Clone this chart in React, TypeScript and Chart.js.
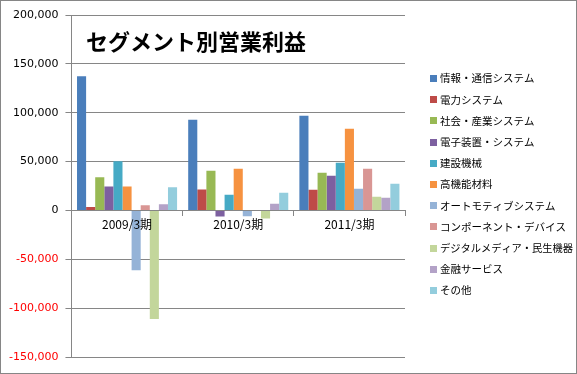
import React, { useEffect, useRef } from "react";
import { Chart, registerables } from "chart.js";

Chart.register(...registerables);

const categories = ["2009/3期", "2010/3期", "2011/3期"];
const chartTitle = "セグメント別営業利益";

const segmentNames = [
  "情報・通信システム",
  "電力システム",
  "社会・産業システム",
  "電子装置・システム",
  "建設機械",
  "高機能材料",
  "オートモティブシステム",
  "コンポーネント・デバイス",
  "デジタルメディア・民生機器",
  "金融サービス",
  "その他",
];

const infoComm = [137300, 92700, 96800];
const powerSys = [3400, 21500, 21200];
const socialInd = [34000, 40600, 38500];
const electronic = [24500, -6100, 35500];
const construction = [50400, 16000, 48800];
const materials = [24500, 42600, 83500];
const automotive = [-61300, -5900, 22200];
const components = [5400, 0, 42600];
const digitalMedia = [-111100, -8200, 14000];
const finance = [6400, 6900, 13000];
const others = [23800, 18100, 27300];

const seriesValues = [
  infoComm,
  powerSys,
  socialInd,
  electronic,
  construction,
  materials,
  automotive,
  components,
  digitalMedia,
  finance,
  others,
];

const seriesColors = [
  "#4A7EBB",
  "#BE4B48",
  "#98B954",
  "#7D60A0",
  "#46AAC5",
  "#F69240",
  "#95B3D7",
  "#D99694",
  "#C3D69B",
  "#B3A2C7",
  "#93CDDD",
];

const yMin = -150000;
const yMax = 200000;
const yStep = 50000;

const gridColor = "#868686";
const jpFont = "'Noto Sans CJK JP', 'DejaVu Sans', sans-serif";
const numFont = "'DejaVu Sans', sans-serif";

const framePlugin = {
  id: "frame",
  beforeDraw(chart: any) {
    const { ctx, width, height } = chart;
    ctx.save();
    ctx.fillStyle = "#ffffff";
    ctx.fillRect(0, 0, width, height);
    ctx.restore();
  },
  afterDraw(chart: any) {
    const { ctx, width, height } = chart;
    ctx.save();
    ctx.strokeStyle = "#868686";
    ctx.lineWidth = 1;
    ctx.strokeRect(0.5, 0.5, width - 1, height - 1);
    // title
    ctx.fillStyle = "#000000";
    ctx.font = "bold 22px " + jpFont;
    ctx.textBaseline = "alphabetic";
    ctx.textAlign = "left";
    ctx.fillText(chartTitle, 86, 50);
    // legend
    const ds = chart.data.datasets;
    const lx = 430;
    const ly0 = 78;
    const lstep = 21.2;
    ctx.font = "10.5px " + jpFont;
    ctx.textBaseline = "middle";
    for (let i = 0; i < ds.length; i++) {
      const cy = ly0 + i * lstep;
      ctx.fillStyle = ds[i].backgroundColor;
      ctx.fillRect(lx, Math.round(cy - 3), 7, 7);
      ctx.fillStyle = "#000000";
      ctx.fillText(ds[i].label, lx + 10, cy + 0.5, width - lx - 14);
    }
    ctx.restore();
  },
};

export default function App() {
  const canvasRef = useRef<HTMLCanvasElement | null>(null);

  useEffect(() => {
    document.body.style.margin = "0";
    const canvas = canvasRef.current;
    if (!canvas) return;
    const chart = new Chart(canvas, {
      type: "bar",
      data: {
        labels: categories,
        datasets: seriesValues.map((vals, i) => ({
          label: segmentNames[i],
          data: vals,
          backgroundColor: seriesColors[i],
          borderWidth: 0,
          categoryPercentage: 0.9,
          barPercentage: 1.0,
        })),
      },
      options: {
        animation: false,
        responsive: false,
        maintainAspectRatio: false,
        layout: {
          padding: { left: 2, right: 172, top: 15, bottom: 17 },
        },
        plugins: {
          title: { display: false },
          tooltip: { enabled: false },
          legend: { display: false },
        },
        scales: {
          x: {
            position: { y: 0 } as any,
            offset: true,
            grid: {
              display: true,
              drawOnChartArea: false,
              drawTicks: true,
              tickLength: 5,
              offset: true,
              color: gridColor,
            },
            border: { display: true, color: gridColor },
            ticks: {
              z: 1,
              color: "#000000",
              font: { family: jpFont, size: 12 },
              padding: 2,
              maxRotation: 0,
            },
          },
          y: {
            min: yMin,
            max: yMax,
            grid: {
              color: gridColor,
              drawTicks: true,
              tickLength: 6,
            },
            border: { display: true, color: gridColor },
            ticks: {
              stepSize: yStep,
              padding: 7,
              font: { family: numFont, size: 11 },
              color: (ctx: any) =>
                ctx.tick && ctx.tick.value < 0 ? "#FF0000" : "#000000",
              callback: (v: any) => Number(v).toLocaleString("en-US"),
            },
          },
        },
      },
      plugins: [framePlugin],
    });
    return () => chart.destroy();
  }, []);

  return (
    <div style={{ width: 577, height: 374 }}>
      <canvas ref={canvasRef} width={577} height={374} style={{ display: "block" }} />
    </div>
  );
}
